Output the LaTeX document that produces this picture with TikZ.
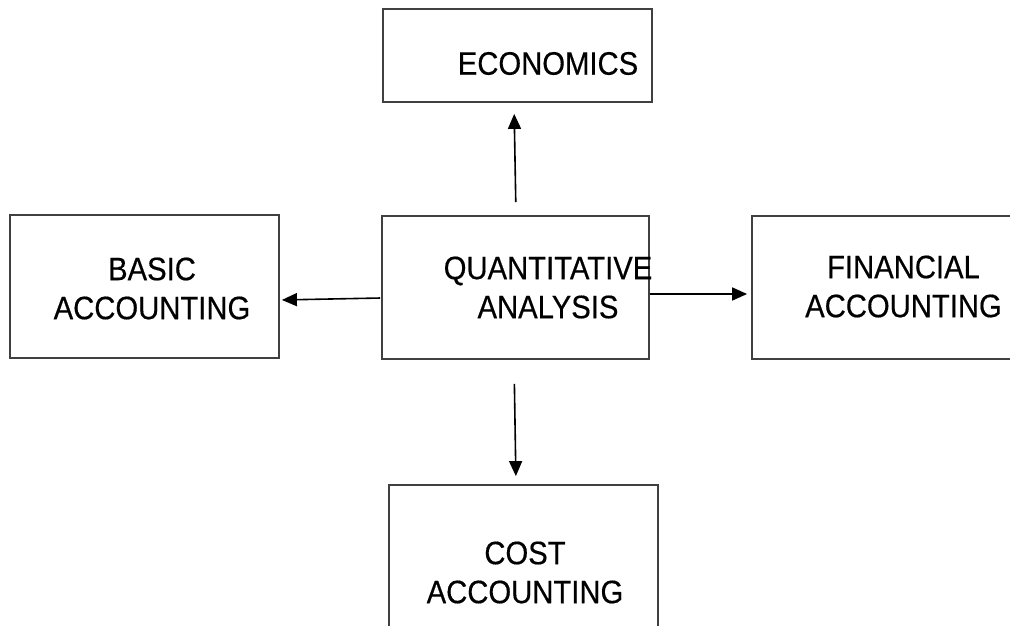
\documentclass[tikz,border=0pt]{standalone}
\usepackage{fontspec}
\setmainfont{Liberation Sans}[FakeStretch=0.9,FakeBold=0.4]
\usetikzlibrary{arrows.meta}

\begin{document}
\begin{tikzpicture}[x=1pt,y=-1pt,
		box/.style={draw=black!75,line width=1.8pt,minimum width=269pt,minimum height=143pt,inner sep=0pt},
		lbl/.style={align=center,inner sep=0pt,font=\fontsize{32.5}{39}\selectfont},
		arr/.style={line width=1.6pt,-{Triangle[length=15pt,width=13pt]}}]
	\clip (0,0) rectangle (1010,626);
	\fill[white] (0,0) rectangle (1010,626);
	% boxes
	\node[box,minimum height=93pt] (econ) at (517.5,55.5) {};
	\node[box] (basic) at (144.5,286.5) {};
	\node[box,minimum width=267pt] (qa) at (515.5,287.5) {};
	\node[box] (fin) at (886.5,287.5) {};
	\node[box,minimum height=150pt] (cost) at (523.5,560) {};
	% texts
	\node[lbl] (econtxt) at (548,63.5) {ECONOMICS};
	\node[lbl] (basictxt) at (152,288.5) {BASIC\\ACCOUNTING};
	\node[lbl] (qatxt) at (548,287.5) {QUANTITATIVE\\ANALYSIS};
	\node[lbl] (fintxt) at (903.5,286.5) {FINANCIAL\\ACCOUNTING};
	\node[lbl] (costtxt) at (525,572.5) {COST\\ACCOUNTING};
	% arrows
	\draw[arr,shorten <=13pt,shorten >=11pt] ([xshift=0.5pt]qa.north) -- ([xshift=-3.5pt]econ.south);
	\draw[arr,shorten <=1pt,shorten >=2pt] ([yshift=-10.5pt]qa.west) -- ([yshift=-13.5pt]basic.east);
	\draw[arr,shorten >=4pt] ([yshift=-6.5pt]qa.east) -- ([yshift=-6.5pt]fin.west);
	\draw[arr,shorten <=24pt,shorten >=8pt] ([xshift=-1.5pt]qa.south) -- ([xshift=-7.5pt]cost.north);
\end{tikzpicture}
\end{document}
